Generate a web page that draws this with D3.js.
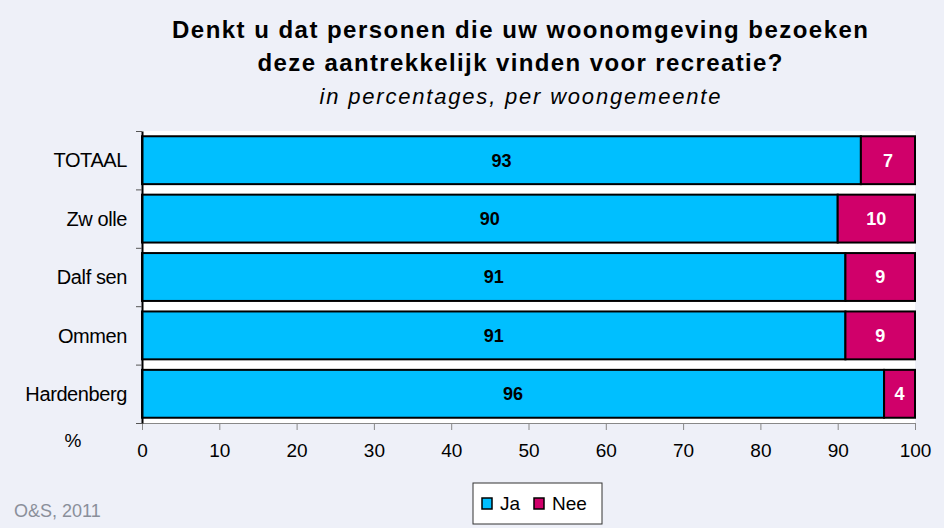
<!DOCTYPE html>
<html>
<head>
<meta charset="utf-8">
<script src="https://cdn.jsdelivr.net/npm/d3@7"></script>
<style>
  html, body { margin: 0; padding: 0; background: #eef0f8; }
  svg { display: block; font-family: 'Liberation Sans', Arial, sans-serif; }
</style>
</head>
<body>
<div id="chart"></div>
<script>
// data
const categories = ['TOTAAL', 'Zwolle', 'Dalfsen', 'Ommen', 'Hardenberg'];
const labels = ['TOTAAL', 'Zw olle', 'Dalf sen', 'Ommen', 'Hardenberg'];
const ja = [93, 90, 91, 91, 96];
const nee = [7, 10, 9, 9, 4];
const xTicks = [0, 10, 20, 30, 40, 50, 60, 70, 80, 90, 100];
const seriesNames = ['Ja', 'Nee'];
const colors = ['#00bfff', '#d0006a'];

const W = 944;
const H = 528;
const margin = { top: 131, right: 29, bottom: 105, left: 142 };
const width = W - margin.left - margin.right;
const height = H - margin.top - margin.bottom;

const svg = d3.select('#chart').append('svg')
  .attr('width', W)
  .attr('height', H);

svg.append('rect')
  .attr('width', W).attr('height', H)
  .attr('fill', '#eef0f8');

// title (the original renders with wide spacing, so stretch to its width)
const title = svg.append('g')
  .attr('text-anchor', 'middle')
  .style('fill', '#000');
title.append('text')
  .attr('x', 520).attr('y', 38)
  .attr('textLength', 696).attr('lengthAdjust', 'spacing')
  .style('font-size', '24px').style('font-weight', 'bold')
  .text('Denkt u dat personen die uw woonomgeving bezoeken');
title.append('text')
  .attr('x', 520).attr('y', 71)
  .attr('textLength', 525).attr('lengthAdjust', 'spacing')
  .style('font-size', '24px').style('font-weight', 'bold')
  .text('deze aantrekkelijk vinden voor recreatie?');
title.append('text')
  .attr('x', 520).attr('y', 104)
  .attr('textLength', 401).attr('lengthAdjust', 'spacing')
  .style('font-size', '22px').style('font-style', 'italic')
  .text('in percentages, per woongemeente');

const g = svg.append('g')
  .attr('transform', `translate(${margin.left},${margin.top})`);

g.append('rect')
  .attr('width', width).attr('height', height)
  .attr('fill', '#fff');

const x = d3.scaleLinear().domain([0, 100]).range([0, width]);
const y = d3.scaleBand().domain(categories).range([0, height]).paddingInner(0.18).paddingOuter(0.09);

const rows = categories.map((c, i) => ({ cat: c, vals: [ja[i], nee[i]] }));

const row = g.selectAll('.row')
  .data(rows)
  .enter().append('g')
  .attr('class', 'row')
  .attr('transform', d => `translate(0,${y(d.cat)})`);

row.each(function (d) {
  let start = 0;
  const segs = d.vals.map((v, k) => {
    const s = { x0: start, v, k };
    start += v;
    return s;
  });
  const sel = d3.select(this).selectAll('.seg')
    .data(segs)
    .enter().append('g').attr('class', 'seg');
  sel.append('rect')
    .attr('x', s => x(s.x0))
    .attr('y', 0)
    .attr('width', s => x(s.x0 + s.v) - x(s.x0))
    .attr('height', y.bandwidth())
    .attr('fill', s => colors[s.k])
    .attr('stroke', '#000')
    .attr('stroke-width', 2);
  sel.append('text')
    .attr('x', s => x(s.x0 + s.v / 2))
    .attr('y', y.bandwidth() / 2)
    .attr('dy', '0.36em')
    .attr('text-anchor', 'middle')
    .style('font-size', '18px')
    .style('font-weight', 'bold')
    .style('fill', s => (s.k === 0 ? '#000' : '#fff'))
    .text(s => s.v);
});

// axes
const xAxis = d3.axisBottom(x)
  .tickValues(xTicks)
  .tickSizeInner(7)
  .tickSizeOuter(0)
  .tickPadding(14);

const xAx = g.append('g')
  .attr('transform', `translate(0,${height})`)
  .call(xAxis);
xAx.selectAll('text').style('font-size', '19px').style('fill', '#000');
xAx.selectAll('line, path').attr('stroke', '#888');

const yAxis = d3.axisLeft(d3.scaleLinear().domain([0, categories.length]).range([0, height]))
  .ticks(categories.length)
  .tickSizeInner(6)
  .tickSizeOuter(0)
  .tickFormat('');
const yAx = g.append('g').call(yAxis);
yAx.selectAll('line').attr('stroke', '#555');
yAx.select('path').attr('stroke', '#000').attr('stroke-width', 2);

g.selectAll('.cat')
  .data(categories)
  .enter().append('text')
  .attr('class', 'cat')
  .attr('x', -15)
  .attr('y', d => y(d) + y.bandwidth() / 2)
  .attr('dy', '0.36em')
  .attr('text-anchor', 'end')
  .style('font-size', '20px')
  .style('letter-spacing', '-0.4px')
  .text((d, i) => labels[i]);

svg.append('text')
  .attr('x', 73).attr('y', 447)
  .attr('text-anchor', 'middle')
  .style('font-size', '19px')
  .text('%');

// source
svg.append('text')
  .attr('x', 14).attr('y', 517)
  .style('font-size', '18px')
  .style('fill', '#8a8f9a')
  .text('O&S, 2011');

// legend
const leg = svg.append('g').attr('transform', 'translate(473,483)');
leg.append('rect')
  .attr('width', 129).attr('height', 41)
  .attr('fill', '#fff').attr('stroke', '#333').attr('stroke-width', 1);
const legX = [9, 61];
const items = leg.selectAll('.li')
  .data(seriesNames)
  .enter().append('g')
  .attr('transform', (d, i) => `translate(${legX[i]},15)`);
items.append('rect')
  .attr('width', 10).attr('height', 11)
  .attr('fill', (d, i) => colors[i])
  .attr('stroke', '#000').attr('stroke-width', 1.5);
items.append('text')
  .attr('x', 18).attr('y', 12)
  .style('font-size', '19px')
  .text(d => d);
</script>
</body>
</html>
